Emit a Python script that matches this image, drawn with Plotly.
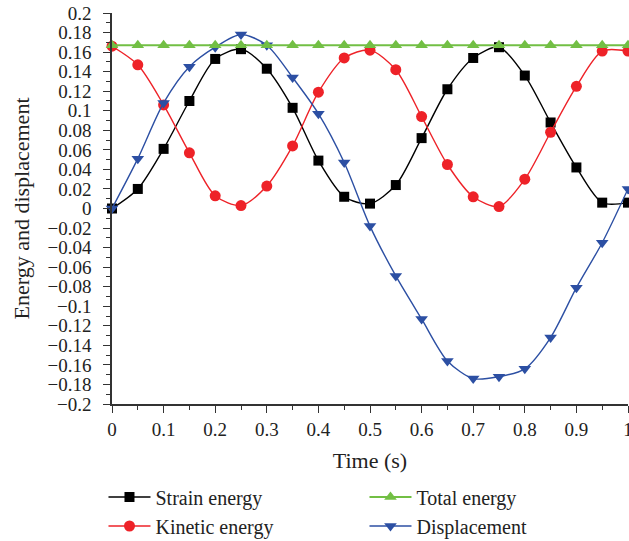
import plotly.graph_objects as go

time = [0, 0.05, 0.1, 0.15, 0.2, 0.25, 0.3, 0.35, 0.4, 0.45, 0.5,
        0.55, 0.6, 0.65, 0.7, 0.75, 0.8, 0.85, 0.9, 0.95, 1.0]
strain = [0, 0.02, 0.061, 0.11, 0.153, 0.163, 0.143, 0.103, 0.049, 0.012, 0.005,
          0.024, 0.072, 0.122, 0.154, 0.165, 0.136, 0.088, 0.042, 0.006, 0.006]
kinetic = [0.166, 0.147, 0.106, 0.057, 0.013, 0.003, 0.023, 0.064, 0.119, 0.154, 0.162,
           0.142, 0.094, 0.045, 0.012, 0.002, 0.030, 0.078, 0.125, 0.161, 0.161]
total = [0.167] * 21
displacement = [0, 0.051, 0.108, 0.145, 0.165, 0.178, 0.167, 0.134, 0.097, 0.047, -0.018,
                -0.069, -0.113, -0.156, -0.174, -0.172, -0.164, -0.132, -0.081, -0.035, 0.02]

y_tickvals = [round(-0.2 + 0.02 * i, 2) for i in range(21)]
y_ticktext = ["−0.2", "−0.18", "−0.16", "−0.14", "−0.12", "−0.1", "−0.08", "−0.06", "−0.04", "−0.02",
              "0", "0.02", "0.04", "0.06", "0.08", "0.1", "0.12", "0.14", "0.16", "0.18", "0.2"]
x_tickvals = [round(0.1 * i, 1) for i in range(11)]
x_ticktext = ["0", "0.1", "0.2", "0.3", "0.4", "0.5", "0.6", "0.7", "0.8", "0.9", "1"]

FONT = "Liberation Serif"
TXT = "#222222"

fig = go.Figure()
fig.add_trace(go.Scatter(x=time, y=strain, name="Strain energy", mode="lines+markers", cliponaxis=False,
                         line=dict(color="#000000", width=1.4, shape="spline", smoothing=0.8),
                         marker=dict(symbol="square", size=10, color="#000000"), legendrank=1))
fig.add_trace(go.Scatter(x=time, y=kinetic, name="Kinetic energy", mode="lines+markers", cliponaxis=False,
                         line=dict(color="#ee2228", width=1.4, shape="spline", smoothing=0.8),
                         marker=dict(symbol="circle", size=11, color="#ee2228"), legendrank=3))
fig.add_trace(go.Scatter(x=time, y=displacement, name="Displacement", mode="lines+markers", cliponaxis=False,
                         line=dict(color="#2c4fa3", width=1.4, shape="spline", smoothing=0.8),
                         marker=dict(symbol="triangle-down", size=11, color="#2c4fa3"), legendrank=4))
fig.add_trace(go.Scatter(x=time, y=total, name="Total energy", mode="lines+markers", cliponaxis=False,
                         line=dict(color="#72bf44", width=1.8),
                         marker=dict(symbol="triangle-up", size=11, color="#72bf44"), legendrank=2))

axis_common = dict(showline=True, linecolor="#333333", linewidth=1.5, showgrid=False, zeroline=False,
                   ticks="outside", ticklen=7, tickcolor="#333333", tickwidth=1.3,
                   tickfont=dict(family=FONT, size=19, color=TXT))

fig.update_xaxes(range=[0, 1], tickmode="array", tickvals=x_tickvals, ticktext=x_ticktext,
                 ticklabeloverflow="allow",
                 minor=dict(tickmode="linear", tick0=0, dtick=0.05, ticks="outside", ticklen=4,
                            tickcolor="#333333", tickwidth=1.2),
                 title=dict(text="Time (s)", font=dict(family=FONT, size=22, color=TXT), standoff=14),
                 **axis_common)
fig.update_yaxes(range=[-0.2, 0.2], tickmode="array", tickvals=y_tickvals, ticktext=y_ticktext,
                 ticklabelstandoff=8,
                 minor=dict(tickmode="linear", tick0=0, dtick=0.01, ticks="outside", ticklen=4,
                            tickcolor="#333333", tickwidth=1.2),
                 title=dict(text="Energy and displacement", font=dict(family=FONT, size=22, color=TXT), standoff=12),
                 **axis_common)

fig.update_layout(
    width=629, height=541,
    margin=dict(l=112, r=1, t=13, b=137, autoexpand=False),
    plot_bgcolor="white", paper_bgcolor="white",
    legend=dict(orientation="h", x=-0.0165, y=-0.188, xanchor="left", yanchor="top",
                entrywidth=204, entrywidthmode="pixels", traceorder="normal",
                font=dict(family=FONT, size=20, color=TXT), itemwidth=42,
                bgcolor="rgba(0,0,0,0)"),
    showlegend=True,
)

fig.write_html("out.html")
